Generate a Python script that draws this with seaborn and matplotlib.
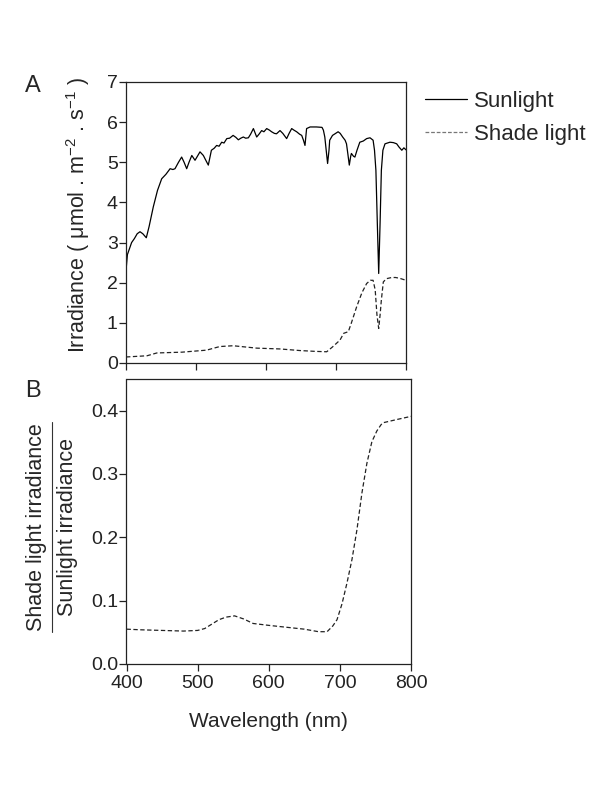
import pandas as pd
import matplotlib
matplotlib.use('Agg')
import matplotlib.pyplot as plt
from matplotlib.lines import Line2D
import seaborn as sns

# Irradiance spectra (panel A)
sun_wl = [400, 402, 405, 408, 412, 416, 420, 424, 429, 433, 439, 445, 451, 457, 463, 467, 470,
          475, 479.5, 483, 486.7, 490, 494, 498.6, 502, 505.7, 510.5, 514, 517.6, 522, 526,
          529.5, 533, 536.7, 540, 544, 548, 553, 557, 560.5, 564, 567.6, 571, 574.8, 578,
          582, 586.7, 590, 593.8, 597, 601, 605, 608, 612, 615, 620, 624, 629.5, 633, 636.7,
          640, 643.8, 648, 651, 653.5, 655.7, 658, 663, 672, 680, 682, 684, 686, 688, 690,
          691, 695, 698.6, 703, 706, 709.5, 713, 715, 717, 719, 721, 722, 725, 727, 730,
          734, 739, 743.8, 748.6, 753, 755, 757, 759, 761, 763, 764.8, 767, 770, 777, 782,
          786.7, 790, 794, 797, 800]
sun_irr = [2.3, 2.7, 2.85, 3.0, 3.1, 3.22, 3.27, 3.22, 3.12, 3.4, 3.89, 4.3, 4.59, 4.7, 4.84,
           4.82, 4.84, 5.0, 5.13, 5.0, 4.84, 5.0, 5.17, 5.05, 5.15, 5.26, 5.17, 5.05, 4.93,
           5.3, 5.35, 5.42, 5.4, 5.5, 5.48, 5.59, 5.6, 5.67, 5.62, 5.56, 5.6, 5.63, 5.6, 5.61,
           5.7, 5.84, 5.63, 5.7, 5.79, 5.76, 5.84, 5.8, 5.76, 5.72, 5.71, 5.79, 5.72, 5.59,
           5.72, 5.84, 5.8, 5.76, 5.7, 5.67, 5.55, 5.42, 5.84, 5.88, 5.88, 5.87, 5.8, 5.63,
           5.3, 4.97, 5.3, 5.55, 5.67, 5.71, 5.76, 5.72, 5.63, 5.55, 5.46, 5.2, 4.93, 5.15,
           5.22, 5.15, 5.13, 5.3, 5.5, 5.53, 5.59, 5.61, 5.55, 5.3, 4.8, 3.5, 2.23, 3.5, 4.8,
           5.3, 5.46, 5.5, 5.49, 5.46, 5.38, 5.3, 5.36, 5.31]

shade_wl = [400, 420, 430, 444, 480, 515, 534, 553, 570, 587, 620, 648.6, 670, 686.7, 695,
            705.7, 711, 717.6, 722, 729.5, 737, 743.8, 749, 753, 756, 758.5, 761, 763, 764.8,
            767.6, 772, 779.5, 785, 791, 800]
shade_irr = [0.15, 0.17, 0.18, 0.25, 0.27, 0.32, 0.41, 0.43, 0.40, 0.37, 0.35, 0.31, 0.29,
             0.28, 0.40, 0.57, 0.74, 0.78, 1.0, 1.4, 1.75, 1.98, 2.06, 2.06, 1.82, 1.2, 0.86,
             1.2, 1.57, 2.02, 2.1, 2.13, 2.13, 2.11, 2.06]

# Shade / sun ratio (panel B)
ratio_wl = [400, 420, 450, 480, 500, 510, 520, 530, 540, 552, 565, 578, 600, 625, 650, 670,
            682, 690, 696, 703, 710, 717, 724, 731, 738, 745, 752, 758, 761, 780, 800]
ratio = [0.055, 0.054, 0.053, 0.052, 0.053, 0.056, 0.063, 0.070, 0.074, 0.076, 0.071, 0.064,
         0.061, 0.058, 0.055, 0.051, 0.051, 0.060, 0.070, 0.095, 0.128, 0.165, 0.212, 0.27,
         0.317, 0.351, 0.368, 0.378, 0.381, 0.386, 0.391]

xticks = [400, 500, 600, 700, 800]

sns.set_theme(style="ticks")
plt.rcParams['font.family'] = ['Liberation Sans', 'DejaVu Sans']
plt.rcParams['mathtext.fontset'] = 'custom'
plt.rcParams['mathtext.rm'] = 'Liberation Sans'
plt.rcParams['mathtext.it'] = 'Liberation Sans'
plt.rcParams['mathtext.default'] = 'regular'
plt.rcParams['axes.linewidth'] = 0.9
plt.rcParams['axes.edgecolor'] = '#222222'
plt.rcParams['xtick.major.size'] = 5
plt.rcParams['ytick.major.size'] = 5
plt.rcParams['xtick.major.width'] = 0.9
plt.rcParams['ytick.major.width'] = 0.9
plt.rcParams['xtick.color'] = '#222222'
plt.rcParams['ytick.color'] = '#222222'

df_sun = pd.DataFrame({'wl': sun_wl, 'irr': sun_irr})
df_shade = pd.DataFrame({'wl': shade_wl, 'irr': shade_irr})
df_ratio = pd.DataFrame({'wl': ratio_wl, 'ratio': ratio})

fig = plt.figure(figsize=(6.12, 7.92), dpi=100)
axA = fig.add_axes([126 / 612, 1 - 363 / 792, 280 / 612, 281 / 792])
axB = fig.add_axes([126.5 / 612, 1 - 664 / 792, 284.5 / 612, 285 / 792])

sns.lineplot(data=df_sun, x='wl', y='irr', ax=axA, color='black', lw=0.9,
             label='Sunlight', legend=False)
sns.lineplot(data=df_shade, x='wl', y='irr', ax=axA, color='#222222', lw=0.9,
             label='Shade light', legend=False)
axA.lines[1].set_dashes((3.5, 2))

axA.set_xlim(400, 800)
axA.set_ylim(0, 7)
axA.set_xticks(xticks)
axA.set_xticklabels([])
axA.set_yticks(range(0, 8))
axA.tick_params(labelsize=14, pad=1)
axA.set_xlabel('')
axA.set_ylabel('Irradiance ( \u03bcmol . m$^{-2}$ . s$^{-1}$ )', fontsize=15.5)
axA.yaxis.set_label_coords(-0.12, 0.525)

sns.lineplot(data=df_ratio, x='wl', y='ratio', ax=axB, color='#222222', lw=0.9)
axB.lines[0].set_dashes((3.5, 2))
axB.set_xlim(400, 800)
axB.set_ylim(0, 0.45)
axB.set_xticks(xticks)
axB.set_yticks([0.0, 0.1, 0.2, 0.3, 0.4])
axB.tick_params(labelsize=14, pad=1)
axB.tick_params(axis='x', pad=3)
axB.set_xlabel('Wavelength (nm)', fontsize=15, labelpad=14)
axB.set_ylabel('')

# stacked fraction label for panel B
fig.text(37 / 612, 1 - 527 / 792, 'Shade light irradiance', rotation=90,
         ha='center', va='center', fontsize=15.5)
fig.text(67 / 612, 1 - 527 / 792, 'Sunlight irradiance', rotation=90,
         ha='center', va='center', fontsize=15.5)
fig.add_artist(Line2D([52 / 612, 52 / 612], [1 - 422 / 792, 1 - 632 / 792],
                      color='#333333', lw=0.8))

fig.text(33 / 612, 1 - 92 / 792, 'A', fontsize=17, ha='center', va='baseline')
fig.text(33 / 612, 1 - 397 / 792, 'B', fontsize=17, ha='center', va='baseline')

handles = [Line2D([], [], color='black', lw=0.9),
           Line2D([], [], color='#777777', lw=0.9, dashes=(3, 1.5))]
fig.legend(handles, ['Sunlight', 'Shade light'], loc='upper left',
           bbox_to_anchor=(425 / 612, 1 - 91 / 792), frameon=False, fontsize=16,
           handlelength=1.9, handletextpad=0.3, labelspacing=0.55,
           borderpad=0, borderaxespad=0)

plt.savefig('out.png', dpi=100)
